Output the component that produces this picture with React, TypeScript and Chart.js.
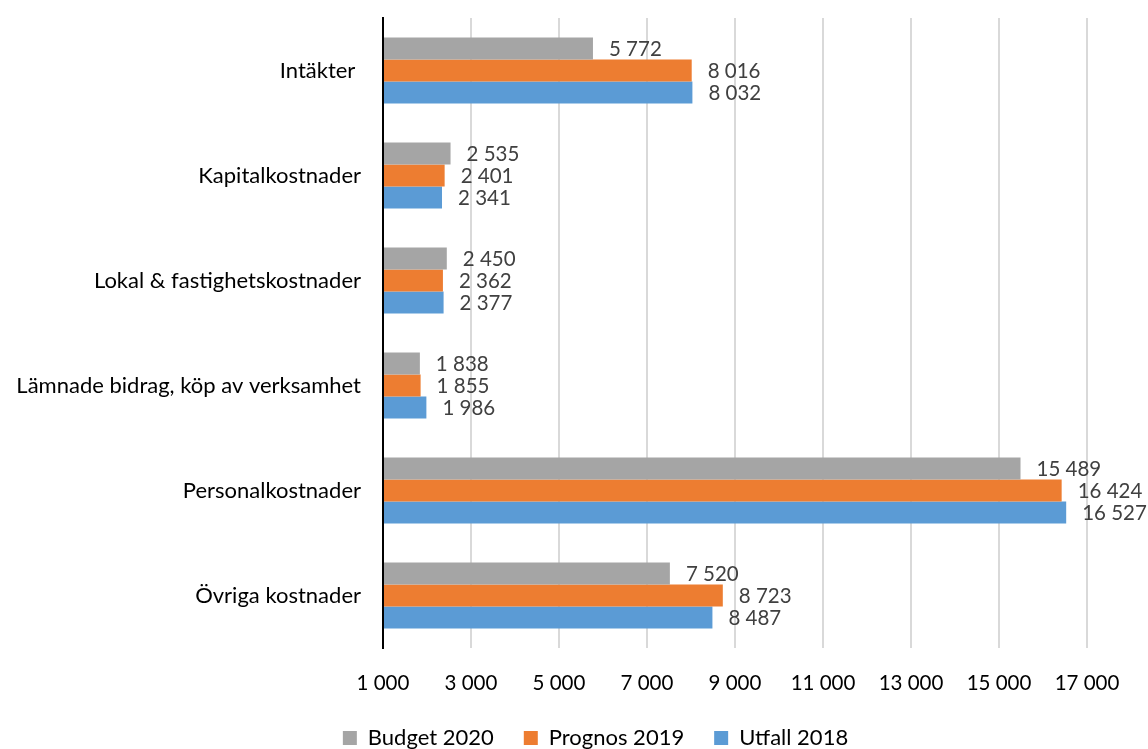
import React, { useEffect, useRef } from "react";
import { Chart, registerables } from "chart.js";

Chart.register(...registerables);

const categories = [
  "Intäkter ",
  "Kapitalkostnader",
  "Lokal & fastighetskostnader",
  "Lämnade bidrag, köp av verksamhet",
  "Personalkostnader",
  "Övriga kostnader",
];
const budget2020 = [5772, 2535, 2450, 1838, 15489, 7520];
const prognos2019 = [8016, 2401, 2362, 1855, 16424, 8723];
const utfall2018 = [8032, 2341, 2377, 1986, 16527, 8487];
const seriesNames = ["Budget 2020", "Prognos 2019", "Utfall 2018"];
const seriesColors = ["#A5A5A5", "#ED7D31", "#5B9BD5"];
const axisMin = 1000;
const axisMax = 17000;
const axisStep = 2000;

const FONT = "Lato, 'Open Sans', sans-serif";

const fmt = (v: number) =>
  Math.round(v).toString().replace(/\B(?=(\d{3})+(?!\d))/g, " ");

const labelPlugin = {
  id: "barLabels",
  afterLayout(chart: any) {
    const lg = chart.legend;
    if (lg) {
      lg.left += 52;
      lg.right += 52;
    }
  },
  afterDatasetsDraw(chart: any) {
    const ctx = chart.ctx;
    ctx.save();
    ctx.font = `20.5px ${FONT}`;
    ctx.fillStyle = "#404040";
    ctx.textAlign = "left";
    ctx.textBaseline = "middle";
    chart.data.datasets.forEach((ds: any, i: number) => {
      const meta = chart.getDatasetMeta(i);
      meta.data.forEach((bar: any, j: number) => {
        ctx.fillText(fmt(ds.data[j]), bar.x + 16, bar.y + 1);
      });
    });
    ctx.restore();
  },
};

export default function App() {
  const ref = useRef<HTMLCanvasElement>(null);
  useEffect(() => {
    if (!ref.current) return;
    const data = [budget2020, prognos2019, utfall2018];
    const chart = new Chart(ref.current, {
      type: "bar",
      data: {
        labels: categories,
        datasets: data.map((d, i) => ({
          label: seriesNames[i],
          data: d,
          backgroundColor: seriesColors[i],
          borderWidth: 0,
          barPercentage: 1,
          categoryPercentage: 0.627,
          base: axisMin,
        })),
      },
      options: {
        indexAxis: "y",
        animation: false,
        responsive: false,
        maintainAspectRatio: false,
        layout: { padding: { top: 18, right: 61, left: 0, bottom: -10 } },
        scales: {
          x: {
            min: axisMin,
            max: axisMax,
            afterBuildTicks: (scale: any) => {
              const t = [];
              for (let v = axisMin; v <= axisMax; v += axisStep) t.push({ value: v });
              scale.ticks = t;
            },
            afterFit: (scale: any) => {
              scale.height = 49;
              scale.paddingLeft = 0;
              scale.paddingRight = 0;
            },
            grid: {
              drawTicks: false,
              lineWidth: 2,
              color: (c: any) => (c.index === 0 ? "rgba(0,0,0,0)" : "#D9D9D9"),
            },
            border: { display: false },
            ticks: {
              padding: 23,
              color: "#000",
              font: { family: FONT, size: 20.5 },
              callback: (v: any) => fmt(Number(v)),
            },
          },
          y: {
            afterFit: (scale: any) => {
              scale.width = 383;
              scale.paddingTop = 0;
              scale.paddingBottom = 0;
            },
            grid: { display: false, drawTicks: false },
            border: { display: true, color: "#000", width: 2 },
            ticks: {
              padding: 22,
              color: "#000",
              font: { family: FONT, size: 22 },
            },
          },
        },
        plugins: {
          legend: {
            position: "bottom",
            labels: {
              boxWidth: 14,
              boxHeight: 14,
              padding: 30,
              color: "#000",
              font: { family: FONT, size: 22 },
            },
          },
          tooltip: { enabled: false },
        },
      },
      plugins: [labelPlugin],
    });
    return () => chart.destroy();
  }, []);
  return (
    <div style={{ position: "fixed", left: 0, top: 0, width: 1148, height: 749, background: "#fff" }}>
      <canvas ref={ref} width={1148} height={749} style={{ display: "block" }} />
    </div>
  );
}
